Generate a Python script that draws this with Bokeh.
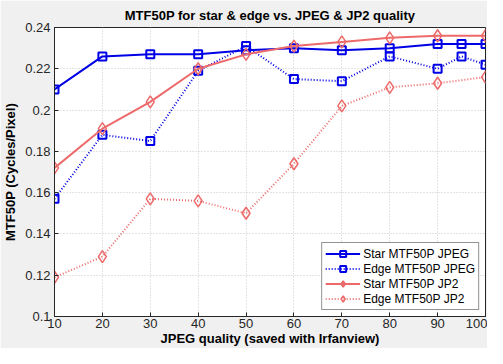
from bokeh.plotting import figure
from bokeh.embed import file_html
from bokeh.resources import INLINE
from bokeh.models import FixedTicker, Range1d

# Data
q_jpeg = [10, 20, 30, 40, 50, 60, 70, 80, 90, 95, 100]
star_jpeg = [0.210, 0.226, 0.227, 0.227, 0.229, 0.230, 0.229, 0.230, 0.232, 0.232, 0.232]
edge_jpeg = [0.157, 0.188, 0.185, 0.219, 0.231, 0.215, 0.214, 0.226, 0.220, 0.226, 0.222]
q_jp2 = [10, 20, 30, 40, 50, 60, 70, 80, 90, 100]
star_jp2 = [0.172, 0.191, 0.204, 0.220, 0.227, 0.231, 0.233, 0.235, 0.236, 0.236]
edge_jp2 = [0.119, 0.129, 0.157, 0.156, 0.150, 0.174, 0.202, 0.211, 0.213, 0.216]
x_ticks = [10, 20, 30, 40, 50, 60, 70, 80, 90, 100]
y_ticks = [0.1, 0.12, 0.14, 0.16, 0.18, 0.2, 0.22, 0.24]
y_tick_labels = {0.1: "0.1", 0.12: "0.12", 0.14: "0.14", 0.16: "0.16", 0.18: "0.18",
                 0.2: "0.2", 0.22: "0.22", 0.24: "0.24"}

FONT = "Liberation Sans"
BLUE = "#0000e6"
RED = "#ee6a6a"

p = figure(width=487, height=348, output_backend="svg", toolbar_location=None,
           x_range=Range1d(10, 100), y_range=Range1d(0.1, 0.24),
           title="MTF50P for star & edge vs. JPEG & JP2 quality")
p.min_border_left = 48
p.min_border_right = 2
p.min_border_top = 24
p.min_border_bottom = 4

p.border_fill_color = "#f0f0f0"
p.background_fill_color = "white"
p.outline_line_color = "#262626"
p.outline_line_width = 1

p.title.text_font = FONT
p.title.text_font_size = "13px"
p.title.text_font_style = "bold"
p.title.align = "center"
p.title.text_color = "#000000"
p.title.offset = 0

for ax in (p.xaxis[0], p.yaxis[0]):
    ax.major_label_text_font = FONT
    ax.major_label_text_font_size = "13px"
    ax.major_label_text_color = "#262626"
    ax.axis_label_text_font = FONT
    ax.axis_label_text_font_size = "13px"
    ax.axis_label_text_font_style = "bold"
    ax.axis_label_text_color = "#000000"
    ax.major_tick_in = 4
    ax.major_tick_out = 0
    ax.minor_tick_in = 0
    ax.minor_tick_out = 0
    ax.axis_line_color = "#262626"
    ax.major_tick_line_color = "#262626"

p.xaxis.ticker = FixedTicker(ticks=x_ticks)
p.yaxis.ticker = FixedTicker(ticks=y_ticks)
p.yaxis.major_label_overrides = y_tick_labels
p.xaxis.axis_label = "JPEG quality (saved with Irfanview)"
p.yaxis.axis_label = "MTF50P (Cycles/Pixel)"
p.xaxis.axis_label_standoff = 0
p.yaxis.axis_label_standoff = 4
p.xaxis.major_label_standoff = 2
p.yaxis.major_label_standoff = 4

p.grid.grid_line_color = "#c8c8c8"
p.grid.grid_line_dash = "1 2"
p.grid.grid_line_width = 1

# Series
p.line(q_jpeg, star_jpeg, color=BLUE, line_width=2, legend_label="Star MTF50P JPEG")
p.scatter(q_jpeg, star_jpeg, marker="square", size=8, line_color=BLUE, fill_color=None,
          line_width=2, legend_label="Star MTF50P JPEG")

p.line(q_jpeg, edge_jpeg, color=BLUE, line_width=2, line_dash="1 2", legend_label="Edge MTF50P JPEG")
p.scatter(q_jpeg, edge_jpeg, marker="square", size=8, line_color=BLUE, fill_color=None,
          line_width=2, legend_label="Edge MTF50P JPEG")

p.line(q_jp2, star_jp2, color=RED, line_width=2, legend_label="Star MTF50P JP2")
p.scatter(q_jp2, star_jp2, marker="diamond", size=12, line_color=RED, fill_color=None,
          line_width=1.5, legend_label="Star MTF50P JP2")

p.line(q_jp2, edge_jp2, color=RED, line_width=2, line_dash="1 2", legend_label="Edge MTF50P JP2")
p.scatter(q_jp2, edge_jp2, marker="diamond", size=12, line_color=RED, fill_color=None,
          line_width=1.5, legend_label="Edge MTF50P JP2")

lg = p.legend[0]
lg.location = "bottom_right"
lg.margin = 6
lg.padding = 3
lg.spacing = 0
lg.glyph_width = 35
lg.glyph_height = 15
lg.label_height = 15
lg.label_standoff = 3
lg.label_text_font = FONT
lg.label_text_font_size = "12px"
lg.label_text_color = "#000000"
lg.border_line_color = "#262626"
lg.border_line_width = 1
lg.background_fill_color = "white"
lg.background_fill_alpha = 1

open("out.html", "w").write(file_html(p, INLINE))
